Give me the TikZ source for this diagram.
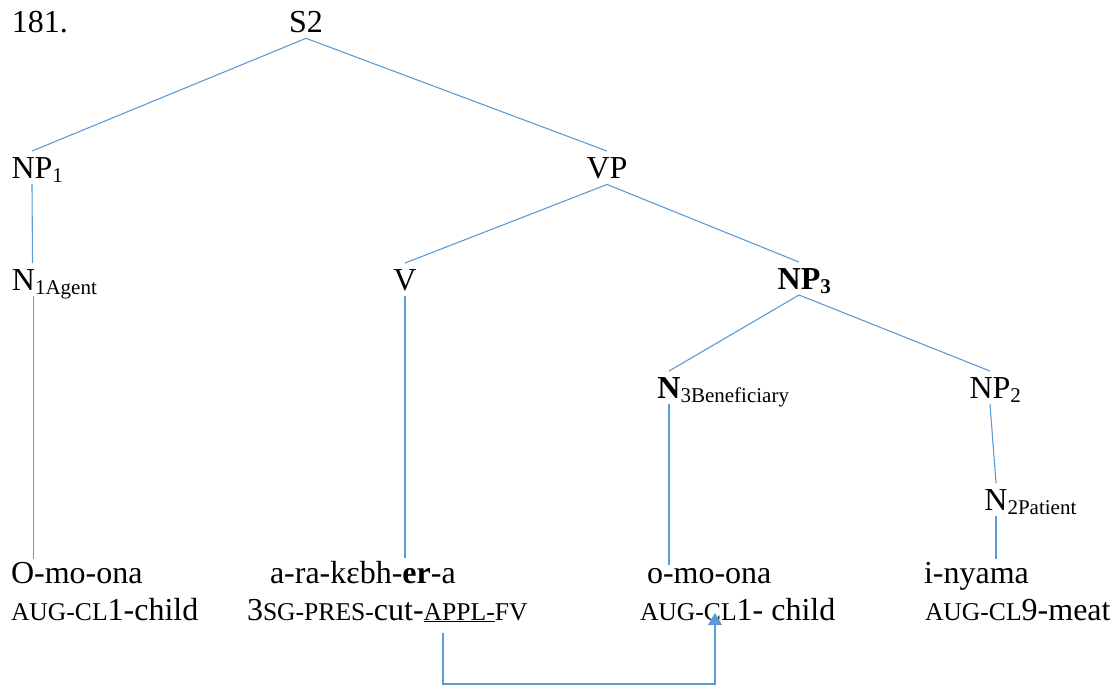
\documentclass[tikz,border=0pt]{standalone}
\usepackage{fontspec}
\setmainfont{Liberation Serif}
\usetikzlibrary{arrows.meta}
\definecolor{branchblue}{RGB}{91,155,213}
\newcommand\gsc[1]{{\fontsize{25.6}{30}\selectfont #1}}
\newcommand\subs[1]{\rlap{\smash{\raisebox{-4pt}{\fontsize{21}{24}\selectfont #1}}}}
\tikzset{
  lbl/.style={font=\fontsize{32}{38}\selectfont, inner sep=0pt, outer sep=6pt, anchor=base},
  word/.style={font=\fontsize{32}{38}\selectfont, inner sep=0pt, outer sep=0pt, anchor=base west},
  branch/.style={draw=branchblue, line width=1.1pt},
}
\begin{document}
\begin{tikzpicture}[x=1pt,y=-1pt]
\useasboundingbox (0,0) rectangle (1119,686);
% labels
\node[word] (num) at (12,32)  {181.};
\node[lbl]  (S)   at (306,32) {S2};
\node[lbl]  (NPa) at (32,178) {NP\subs{1}};
\node[lbl]  (VP)  at (607,178) {VP};
\node[lbl]  (Na)  at (23.5,290) {N\subs{1Agent}};
\node[lbl]  (V)   at (405,290) {V};
\node[lbl]  (NPc) at (799,289) {\textbf{NP\subs{3}}};
\node[lbl]  (Nc)  at (669,398) {\textbf{N}\subs{3Beneficiary}};
\node[lbl]  (NPb) at (990,398) {NP\subs{2}};
\node[lbl]  (Nb)  at (996,510) {N\subs{2Patient}};
% words
\node[word] (w1) at (11,583)  {O-mo-ona};
\node[word] (w2) at (270,583) {a-ra-kεbh-\textbf{er}-a};
\node[word] (w3) at (647,583) {o-mo-ona};
\node[word] (w4) at (924,583) {i-nyama};
% glosses
\node[word] (g1) at (11,620)  {\gsc{AUG-CL}1-child};
\node[word] (g2) at (247,620) {3\gsc{SG-PRES-}cut-\underline{\gsc{APPL-}}\gsc{FV}};
\node[word] (g3) at (640,620) {\gsc{AUG-CL}1- child};
\node[word] (g4) at (925,620) {\gsc{AUG-CL}9-meat};
% branches
\draw[branch] (S.south) -- (NPa.north);
\draw[branch] (S.south) -- (VP.north);
\draw[branch] (NPa.south) -- ([xshift=9pt]Na.north);
\draw[branch] (VP.south) -- (V.north);
\draw[branch] (VP.south) -- (NPc.north);
\draw[branch] (NPc.south) -- (Nc.north);
\draw[branch] (NPc.south) -- (NPb.north);
\draw[branch] (NPb.south) -- (Nb.north);
\draw[branch,shorten >=3pt] ([xshift=10pt]Na.south) -- ([xshift=10pt]Na.south |- w1.north);
\draw[branch,shorten >=3pt] (V.south) -- (V.south |- w2.north);
\draw[branch,shorten >=3pt] (Nc.south) -- (Nc.south |- w3.north);
\draw[branch,shorten >=3pt] (Nb.south) -- (Nb.south |- w4.north);
% link
\draw[branch,-{Triangle[width=14pt,length=12pt]}]
  ([xshift=196pt,yshift=-13pt]g2.base west) -- ++(0,51)
  -| ([xshift=75pt,yshift=7pt]g3.base west);
\end{tikzpicture}
\end{document}
